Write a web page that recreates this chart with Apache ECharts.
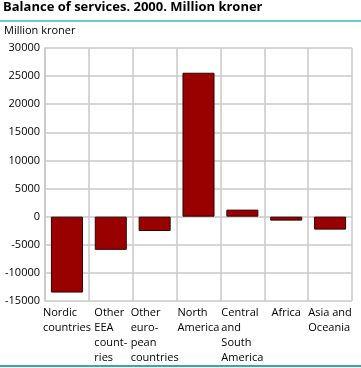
<!DOCTYPE html>
<html><head><meta charset="utf-8">
<script src="https://cdn.jsdelivr.net/npm/echarts@6/dist/echarts.min.js"></script>
<style>html,body{margin:0;padding:0;background:#fff}#c{width:361px;height:368px}</style>
</head><body><div id="c"></div>
<script>
var categories = ["Nordic\ncountries", "Other\nEEA\ncount-\nries", "Other\neuro-\npean\ncountries", "North\nAmerica", "Central\nand\nSouth\nAmerica", "Africa", "Asia and\nOceania"];
var values = [-13500, -5900, -2550, 25600, 1250, -700, -2300];
var yTicks = {min: -15000, max: 30000, interval: 5000};

var font = "'Open Sans', 'Noto Sans', sans-serif";
var chart = echarts.init(document.getElementById('c'), null, {renderer: 'canvas'});
chart.setOption({
  animation: false,
  textStyle: {fontFamily: font},
  graphic: [
    {type: 'text', left: 3, top: 1, style: {text: 'Balance of services. 2000. Million kroner', font: 'bold 13px ' + font, fill: '#000'}},
    {type: 'rect', shape: {x: 0, y: 20, width: 361, height: 2}, style: {fill: '#66cccc'}},
    {type: 'text', left: 4, top: 25, style: {text: 'Million kroner', font: '11px ' + font, fill: '#000'}},
    {type: 'rect', shape: {x: 0, y: 365, width: 361, height: 2}, style: {fill: '#3aa6a6'}}
  ],
  grid: {left: 45, right: 9, top: 48, bottom: 67, containLabel: false},
  xAxis: {
    type: 'category',
    data: categories,
    boundaryGap: true,
    axisLine: {show: false},
    axisTick: {show: false},
    splitLine: {show: true, interval: 0, lineStyle: {color: '#c8c8c8', width: 1.5}},
    axisLabel: {
      interval: 0, margin: 4, color: '#000', fontSize: 11, fontFamily: font, lineHeight: 15,
      align: 'center', verticalAlign: 'top',
      formatter: function (v) { return v.split('\n').map(function (s) { return '{a|' + s + '}'; }).join('\n'); },
      rich: {a: {align: 'left', fontSize: 11, lineHeight: 15, fontFamily: font, color: '#000'}}
    }
  },
  yAxis: {
    type: 'value',
    min: yTicks.min, max: yTicks.max, interval: yTicks.interval,
    axisLine: {show: true, lineStyle: {color: '#c8c8c8', width: 1.5}},
    axisTick: {show: false},
    splitLine: {show: true, lineStyle: {color: '#c8c8c8', width: 1.5}},
    axisLabel: {color: '#000', fontSize: 11, fontFamily: font, margin: 5, formatter: function (v) { return String(v); }}
  },
  series: [{
    type: 'bar',
    data: values,
    barCategoryGap: '27%',
    itemStyle: {color: '#990000', borderColor: '#330000', borderWidth: 1}
  }]
});
</script></body></html>
